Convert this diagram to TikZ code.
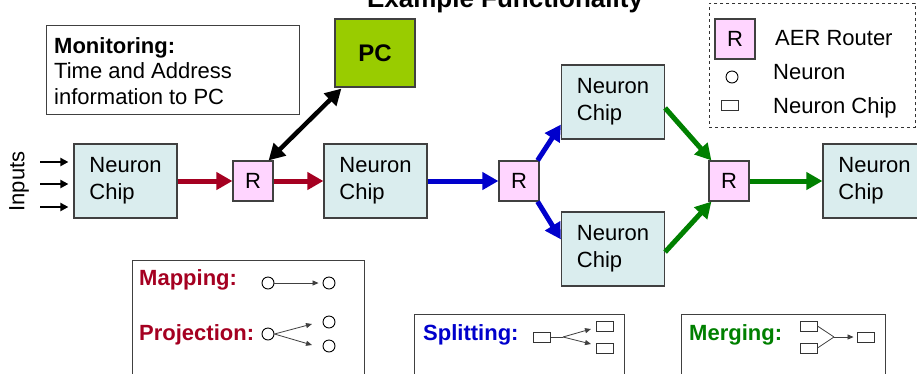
\documentclass[tikz,border=0pt]{standalone}
\usepackage{fontspec}
\setmainfont{Liberation Sans}
\usetikzlibrary{arrows.meta}
\definecolor{chipfill}{HTML}{DAEDEE}
\definecolor{rfill}{HTML}{FFD5FF}
\definecolor{mred}{HTML}{A50021}
\definecolor{mblue}{HTML}{0000CC}
\definecolor{mgreen}{HTML}{008000}
\definecolor{pcgreen}{HTML}{99CC00}
\definecolor{edgegray}{HTML}{404040}
\begin{document}
\begin{tikzpicture}[x=1pt,y=-1pt,
  chipbox/.style={draw=edgegray, line width=1.2pt, fill=chipfill, minimum width=103pt, minimum height=74pt, align=left, inner sep=0pt, font=\fontsize{22}{27}\selectfont},
  router/.style={draw=edgegray, line width=1.2pt, fill=rfill, minimum size=40pt, inner sep=0pt, font=\fontsize{22}{27}\selectfont},
  bigarrow/.style={line width=5pt, -{Triangle[length=16pt,width=17pt]}},
  inarrow/.style={line width=2pt, -{Triangle[length=8pt,width=8pt]}},
  thinarrow/.style={line width=0.8pt, draw=black!75, -{Triangle[length=6pt,width=5pt]}},
  thinline/.style={line width=0.8pt, draw=black!75},
  smallcirc/.style={circle, draw=black, line width=0.9pt, minimum size=12pt, inner sep=0pt},
  smallrect/.style={draw=black!80, line width=0.9pt, minimum width=17pt, minimum height=10pt, inner sep=0pt},
  txt/.style={inner sep=0pt, font=\fontsize{22}{26}\selectfont},
  boldlbl/.style={inner sep=0pt, anchor=base west, font=\fontsize{22}{26}\selectfont\bfseries},
  infobox/.style={draw=edgegray, line width=1pt, anchor=north west, inner sep=0pt}
]
\useasboundingbox (0,0) rectangle (917,373);
\fill[white] (0,0) rectangle (917,373);

% title
\node[anchor=base, inner sep=0pt, font=\fontsize{26}{30}\selectfont\bfseries] (title) at (505,7) {Example Functionality};

% monitoring box
\node[infobox, minimum width=253pt, minimum height=89pt] (mon) at (46,25) {};
\node[anchor=north west, inner sep=0pt, align=left, font=\fontsize{22}{25.5}\selectfont] (montext) at (54,37) {\textbf{Monitoring:}\\Time and Address\\information to PC};

% PC
\node[draw=edgegray, line width=1.2pt, fill=pcgreen, minimum width=80pt, minimum height=68pt, inner sep=0pt, font=\fontsize{24}{28}\selectfont\bfseries] (pc) at (375,53) {PC};

% legend
\node[draw=black!80, dashed, line width=0.9pt, minimum width=206pt, minimum height=124pt, anchor=north west, inner sep=0pt] (legend) at (709,3) {};
\node[router] (lr) at (735,39) {R};
\node[smallcirc] (lc) at (732,77) {};
\node[smallrect] (lrect) at (729.5,105) {};
\node[txt, anchor=base west] (ltxt1) at (775,45) {AER Router};
\node[txt, anchor=base west] (ltxt2) at (773,79) {Neuron};
\node[txt, anchor=base west] (ltxt3) at (773,113) {Neuron Chip};

% inputs
\node[txt, rotate=90] (inputs) at (19,181.5) {Inputs};

% chips and routers
\node[chipbox] (chipA) at (125.5,181) {Neuron\\Chip};
\node[router] (rA) at (253,181) {R};
\node[chipbox] (chipB) at (375.5,181) {Neuron\\Chip};
\node[router] (rB) at (519,181) {R};
\node[chipbox] (chipT) at (613,102) {Neuron\\Chip};
\node[chipbox] (chipD) at (613,249) {Neuron\\Chip};
\node[router] (rC) at (729,181) {R};
\node[chipbox] (chipE) at (874.5,181) {Neuron\\Chip};

% input arrows
\draw[inarrow] ([xshift=-33pt,yshift=19pt]chipA.west) -- ([xshift=-5pt,yshift=19pt]chipA.west);
\draw[inarrow] ([xshift=-33pt,yshift=-3pt]chipA.west) -- ([xshift=-5pt,yshift=-3pt]chipA.west);
\draw[inarrow] ([xshift=-33pt,yshift=-26pt]chipA.west) -- ([xshift=-5pt,yshift=-26pt]chipA.west);

% red
\draw[bigarrow, mred] (chipA.east) -- (rA.west);
\draw[bigarrow, mred] (rA.east) -- (chipB.west);
% black double
\draw[line width=4.5pt, {Triangle[length=16pt,width=17pt]}-{Triangle[length=16pt,width=17pt]}] ([xshift=-5pt]rA.north east) -- ([xshift=7pt,yshift=-1pt]pc.south west);
% blue
\draw[bigarrow, mblue] (chipB.east) -- (rB.west);
\draw[bigarrow, mblue] ([xshift=-2pt]rB.north east) -- ([yshift=15pt]chipT.south west);
\draw[bigarrow, mblue] ([xshift=-2pt]rB.south east) -- ([yshift=-28pt]chipD.north west);
% green
\draw[bigarrow, mgreen] ([yshift=-6pt]chipT.east) -- ([xshift=3pt]rC.north west);
\draw[bigarrow, mgreen] ([yshift=-3pt]chipD.east) -- ([xshift=3pt]rC.south west);
\draw[bigarrow, mgreen] (rC.east) -- (chipE.west);

% mapping / projection box
\node[infobox, minimum width=232pt, minimum height=125pt] (mapbox) at (132,260) {};
\node[boldlbl, text=mred] (maplbl) at (139,285) {Mapping:};
\node[boldlbl, text=mred] (projlbl) at (139,340) {Projection:};
\node[smallcirc] (m1) at (268,283) {};
\node[smallcirc] (m2) at (329,283) {};
\draw[thinarrow, shorten >=4pt] (m1) -- (m2);
\node[smallcirc] (p0) at (268,334) {};
\node[smallcirc] (p1) at (329,322) {};
\node[smallcirc] (p2) at (329,346) {};
\coordinate (p1t) at (312,324);
\coordinate (p2t) at (312,345);
\draw[thinarrow] (p0.east) -- (p1t);
\draw[thinarrow] (p0.east) -- (p2t);

% splitting box
\node[infobox, minimum width=210pt, minimum height=70pt] (splitbox) at (414,314) {};
\node[boldlbl, text=mblue] (splitlbl) at (423,340) {Splitting:};
\node[smallrect] (s0) at (542,337) {};
\node[smallrect] (s1) at (605,326) {};
\node[smallrect] (s2) at (605,348) {};
\coordinate (ssplit) at (563,337);
\coordinate (s1t) at (591,329);
\coordinate (s2t) at (591,344);
\draw[thinline] (s0.east) -- (ssplit);
\draw[thinarrow] (ssplit) -- (s1t);
\draw[thinarrow] (ssplit) -- (s2t);

% merging box
\node[infobox, minimum width=204pt, minimum height=70pt] (mergebox) at (681,314) {};
\node[boldlbl, text=mgreen] (mergelbl) at (689,340) {Merging:};
\node[smallrect] (g1) at (808.5,326) {};
\node[smallrect] (g2) at (808.5,348) {};
\node[smallrect] (g0) at (865.5,337) {};
\coordinate (gjoin) at (834,337);
\draw[thinline] (g1.east) -- (gjoin);
\draw[thinline] (g2.east) -- (gjoin);
\draw[thinarrow, shorten >=3pt] (gjoin) -- (g0.west);
\end{tikzpicture}
\end{document}
